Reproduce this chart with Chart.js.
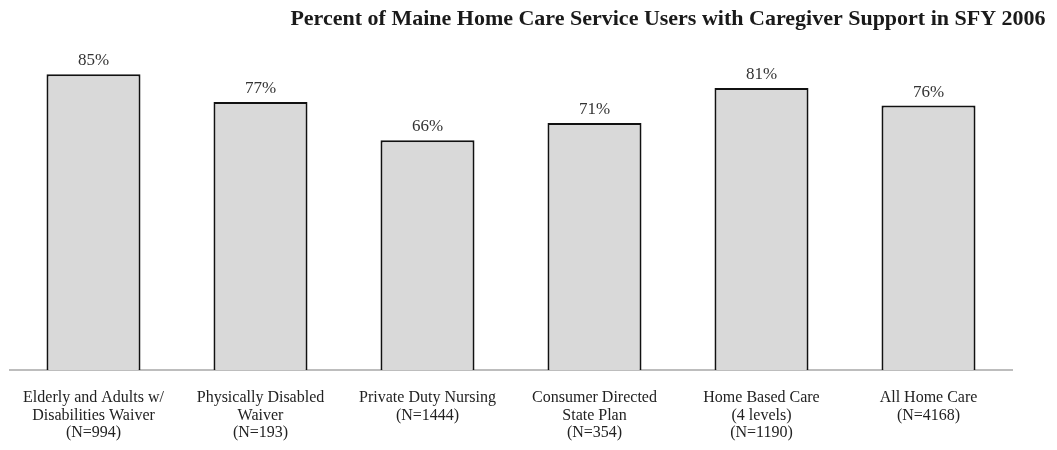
<!DOCTYPE html>
<html><head><meta charset="utf-8">
<script src="https://cdn.jsdelivr.net/npm/chart.js@4/dist/chart.umd.min.js"></script>
<style>html,body{margin:0;padding:0;background:#fff}#wrap{width:1057px;height:450px;position:relative}</style>
</head><body><div id="wrap"><canvas id="c"></canvas></div>
<script>
const titleText = "Percent of Maine Home Care Service Users with Caregiver Support in SFY 2006";
const categories = [
  ["Elderly and Adults w/", "Disabilities Waiver", "(N=994)"],
  ["Physically Disabled", "Waiver", "(N=193)"],
  ["Private Duty Nursing", "(N=1444)"],
  ["Consumer Directed", "State Plan", "(N=354)"],
  ["Home Based Care", "(4 levels)", "(N=1190)"],
  ["All Home Care", "(N=4168)"]
];
const values = [85, 77, 66, 71, 81, 76];

const serif = "'Liberation Serif', 'Times New Roman', serif";

const overlay = {
  id: 'overlay',
  afterDatasetsDraw(chart) {
    const ctx = chart.ctx;
    ctx.save();
    ctx.fillStyle = '#1a1a1a';
    ctx.font = "bold 22px " + serif;
    ctx.textAlign = 'center';
    ctx.textBaseline = 'middle';
    ctx.fillText(titleText, 668, 19);
    const meta = chart.getDatasetMeta(0);
    ctx.font = "17px " + serif;
    ctx.fillStyle = '#333';
    ctx.textBaseline = 'alphabetic';
    meta.data.forEach((bar, i) => {
      ctx.fillText(values[i] + '%', bar.x, bar.y - 9);
    });
    ctx.restore();
  }
};

new Chart(document.getElementById('c'), {
  type: 'bar',
  data: {
    labels: categories,
    datasets: [{
      data: values,
      backgroundColor: '#d9d9d9',
      borderColor: '#111',
      borderWidth: 2,
      barPercentage: 0.563,
      categoryPercentage: 1.0
    }]
  },
  options: {
    responsive: true,
    maintainAspectRatio: false,
    animation: false,
    layout: { padding: { left: 10, right: 45, top: 22, bottom: 0 } },
    plugins: { legend: { display: false }, title: { display: false }, tooltip: { enabled: false } },
    scales: {
      x: {
        grid: { display: false, drawTicks: false },
        border: { display: true, color: '#bdbdbd', width: 2 },
        afterFit(scale) { scale.height = 80; },
        ticks: {
          color: '#222', padding: 19, maxRotation: 0, autoSkip: false,
          font: { family: serif, size: 16, lineHeight: 1.1 }
        }
      },
      y: {
        display: false, min: 0, max: 100
      }
    }
  },
  plugins: [overlay]
});
</script></body></html>
